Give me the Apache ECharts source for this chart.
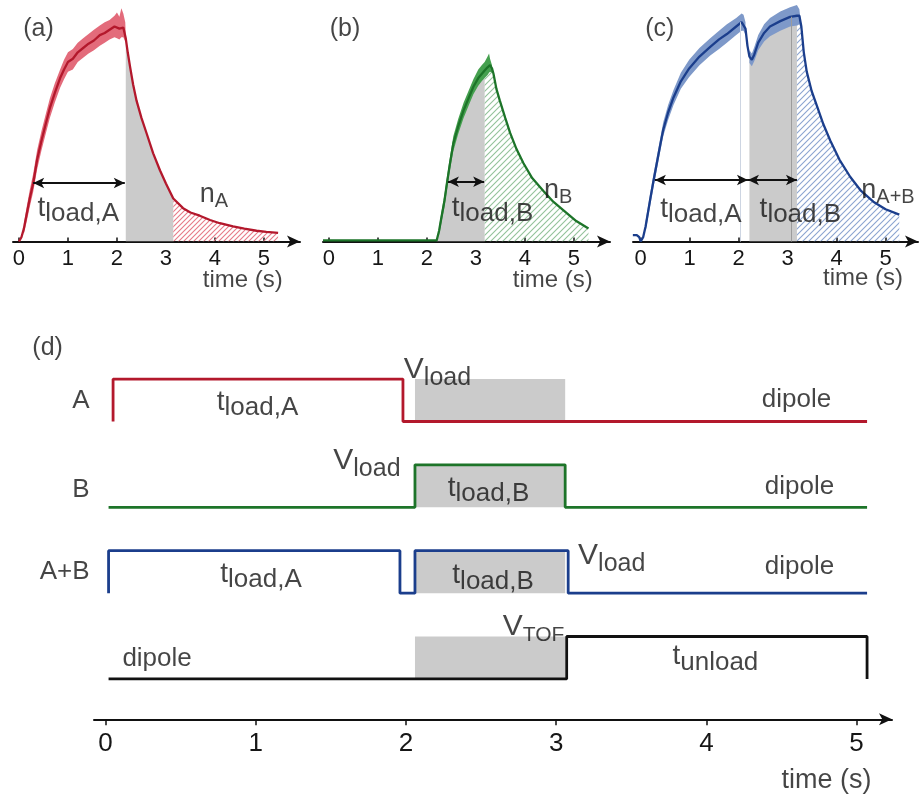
<!DOCTYPE html>
<html>
<head>
<meta charset="utf-8">
<script src="https://cdn.jsdelivr.net/npm/echarts@6.0.0/dist/echarts.min.js"></script>
<style>
  html, body { margin: 0; padding: 0; background: #fff; }
  #chart { width: 920px; height: 801px; }
</style>
</head>
<body>
<div id="chart"></div>
<script>
// ---- data (time in s, signal in arbitrary units) ----
var tickValues = [0, 1, 2, 3, 4, 5];
var tickLabels = ['0', '1', '2', '3', '4', '5'];

// (a) species A alone: mean trace [t, n]
var aCurve = [[0, 0], [0.05, 0.02], [0.10, 0.06], [0.16, 0.13], [0.22, 0.20], [0.29, 0.27], [0.37, 0.38],
  [0.46, 0.47], [0.55, 0.55], [0.63, 0.62], [0.73, 0.69], [0.84, 0.76], [0.92, 0.80], [1.00, 0.835],
  [1.10, 0.85], [1.20, 0.88], [1.31, 0.90], [1.42, 0.92], [1.53, 0.935], [1.65, 0.96], [1.75, 0.97],
  [1.85, 0.985], [1.95, 1.00], [2.05, 0.99], [2.13, 0.995], [2.18, 0.945], [2.22, 0.88], [2.27, 0.81],
  [2.33, 0.73], [2.40, 0.655], [2.50, 0.575], [2.61, 0.50], [2.74, 0.41], [2.88, 0.33], [3.00, 0.27],
  [3.15, 0.20], [3.35, 0.155], [3.50, 0.135], [3.69, 0.12], [3.90, 0.10], [4.10, 0.085], [4.37, 0.07],
  [4.60, 0.06], [4.85, 0.05], [5.05, 0.045], [5.29, 0.04]];
// spread of the shots [t, low, high]
var aBand = [[0.10, 0.035, 0.085], [0.16, 0.095, 0.165], [0.22, 0.16, 0.24], [0.29, 0.23, 0.315],
  [0.37, 0.335, 0.425], [0.46, 0.425, 0.515], [0.55, 0.505, 0.595], [0.63, 0.575, 0.665],
  [0.73, 0.645, 0.735], [0.84, 0.715, 0.80], [0.92, 0.755, 0.845], [1.00, 0.79, 0.88],
  [1.10, 0.80, 0.895], [1.20, 0.835, 0.925], [1.31, 0.855, 0.945], [1.42, 0.875, 0.965],
  [1.53, 0.89, 0.985], [1.65, 0.91, 1.005], [1.75, 0.925, 1.02], [1.85, 0.94, 1.03],
  [1.95, 0.95, 1.05], [2.00, 0.945, 1.065], [2.05, 0.94, 1.045], [2.09, 0.95, 1.085],
  [2.13, 0.95, 1.06], [2.17, 0.93, 1.02], [2.18, 0.93, 0.96]];
var aGray = [2.18, 3.15];
var aHatch = [3.15, 5.29];

// (b) species B alone
var bCurve = [[-0.12, 0.005], [2.20, 0.005], [2.25, 0.05], [2.30, 0.115], [2.36, 0.19], [2.41, 0.27],
  [2.47, 0.36], [2.54, 0.455], [2.64, 0.535], [2.75, 0.61], [2.85, 0.665], [2.95, 0.72], [3.05, 0.76],
  [3.18, 0.795], [3.24, 0.81], [3.29, 0.82], [3.33, 0.805], [3.36, 0.78], [3.42, 0.71], [3.49, 0.655],
  [3.60, 0.575], [3.70, 0.505], [3.83, 0.43], [3.97, 0.365], [4.15, 0.295], [4.38, 0.235],
  [4.58, 0.185], [4.79, 0.145], [5.05, 0.095], [5.30, 0.06]];
var bBand = [[2.25, 0.03, 0.07], [2.30, 0.09, 0.14], [2.36, 0.16, 0.22], [2.41, 0.24, 0.30],
  [2.47, 0.33, 0.39], [2.54, 0.42, 0.49], [2.64, 0.50, 0.57], [2.75, 0.575, 0.645], [2.85, 0.63, 0.70],
  [2.95, 0.685, 0.755], [3.05, 0.725, 0.80], [3.12, 0.745, 0.82], [3.18, 0.76, 0.835],
  [3.24, 0.775, 0.86], [3.27, 0.785, 0.875], [3.29, 0.79, 0.85], [3.33, 0.785, 0.82]];
var bGray = [2.20, 3.18];
var bHatch = [3.18, 5.30];

// (c) A then B
var cCurve = [[-0.16, 0.03], [-0.08, 0.03], [-0.03, 0.02], [0.0, 0.0], [0.05, 0.02], [0.10, 0.07],
  [0.19, 0.19], [0.26, 0.28], [0.33, 0.365], [0.40, 0.45], [0.46, 0.52], [0.56, 0.60], [0.67, 0.67],
  [0.82, 0.745], [0.99, 0.805], [1.20, 0.86], [1.42, 0.905], [1.60, 0.94], [1.76, 0.965], [1.95, 1.00],
  [2.06, 1.02], [2.10, 1.025], [2.14, 0.99], [2.18, 0.91], [2.22, 0.86], [2.27, 0.845], [2.32, 0.87],
  [2.40, 0.925], [2.52, 0.97], [2.64, 1.0], [2.85, 1.025], [3.05, 1.045], [3.19, 1.05], [3.24, 1.05],
  [3.28, 1.0], [3.33, 0.88], [3.39, 0.79], [3.49, 0.70], [3.60, 0.63], [3.73, 0.545], [3.87, 0.47],
  [4.06, 0.38], [4.28, 0.30], [4.50, 0.235], [4.75, 0.185], [5.00, 0.15], [5.28, 0.125]];
var cBand1 = [[0.10, 0.045, 0.095], [0.19, 0.16, 0.22], [0.26, 0.25, 0.31], [0.33, 0.335, 0.395],
  [0.40, 0.42, 0.48], [0.46, 0.49, 0.555], [0.56, 0.565, 0.635], [0.67, 0.635, 0.705],
  [0.82, 0.71, 0.785], [0.99, 0.765, 0.845], [1.20, 0.82, 0.90], [1.42, 0.865, 0.945],
  [1.60, 0.895, 0.98], [1.76, 0.925, 1.01], [1.95, 0.96, 1.04], [2.06, 0.98, 1.06],
  [2.10, 0.98, 1.055], [2.14, 0.96, 1.02]];
var cBand2 = [[2.22, 0.83, 0.89], [2.27, 0.815, 0.875], [2.32, 0.84, 0.905], [2.40, 0.89, 0.96],
  [2.52, 0.93, 1.01], [2.64, 0.955, 1.04], [2.85, 0.98, 1.07], [3.05, 1.0, 1.09],
  [3.19, 1.005, 1.1], [3.24, 1.01, 1.08], [3.27, 0.99, 1.02]];
var cGray = [2.22, 3.19];
var cHatch = [3.19, 5.28];
var cMarks = [[2.03, 1.02], [3.08, 1.045]];

// (d) switching sequence: [t, state] (state 1 = load potential on)
var seqA = [[0.05, 0], [0.05, 1], [1.98, 0], [5.07, 0]];
var seqB = [[0.02, 0], [2.06, 1], [3.06, 0], [5.07, 0]];
var seqAB = [[0.02, 0], [0.02, 1], [1.96, 0], [2.06, 1], [3.08, 0], [5.07, 0]];
var seqTOF = [[0.02, 0], [3.07, 1], [5.07, 0], [5.07, 0]];
var loadWindow = [2.06, 3.06];
var rowBase = [7, 5, 3, 1];

// ---- styling ----
var F = '"Liberation Sans", Arial, Helvetica, sans-serif';
var TXT = '#161616';
var RED = '#b3182c', RED_BAND = '#e36b7b', RED_HATCH = '#e67a88';
var GRN = '#1d7429', GRN_BAND = '#45a04f', GRN_HATCH = '#93c29a';
var BLU = '#1b3e8c', BLU_BAND = '#7e99c9', BLU_HATCH = '#8ba4d0';
var GRAY = '#cbcbcb';
var AMP = 0.99;

function hatch(color, s) {
  var c = document.createElement('canvas');
  c.width = s; c.height = s;
  var ctx = c.getContext('2d');
  ctx.strokeStyle = color;
  ctx.lineWidth = 1.1;
  ctx.beginPath();
  ctx.moveTo(0, s); ctx.lineTo(s, 0);
  ctx.moveTo(-1, 1); ctx.lineTo(1, -1);
  ctx.moveTo(s - 1, s + 1); ctx.lineTo(s + 1, s - 1);
  ctx.stroke();
  return { image: c, repeat: 'repeat' };
}

var RICH = {
  t: { fontSize: 28, fontFamily: F, color: TXT },
  s: { fontSize: 26, fontFamily: F, color: TXT, padding: [12, 0, 0, 0] },
  n: { fontSize: 27, fontFamily: F, color: TXT },
  ns: { fontSize: 20, fontFamily: F, color: TXT, padding: [14, 0, 0, 0] },
  V: { fontSize: 30, fontFamily: F, color: TXT },
  vs: { fontSize: 25, fontFamily: F, color: TXT, padding: [17, 0, 0, 0] },
  vt: { fontSize: 21, fontFamily: F, color: TXT, padding: [18, 0, 0, 0] },
  p: { fontSize: 25, fontFamily: F, color: TXT },
  w: { fontSize: 24, fontFamily: F, color: TXT },
  W: { fontSize: 27, fontFamily: F, color: TXT },
  d: { fontSize: 26, fontFamily: F, color: TXT }
};

// annotations in data coordinates of each panel
var notesA = [
  { text: '{p|(a)}', at: [0.40, 0.99] },
  { text: '{t|t}{s|load,A}', at: [1.21, 0.156] },
  { text: '{n|n}{ns|A}', at: [3.98, 0.22] },
  { text: '{w|time (s)}', at: [4.57, -0.18] }
];
var notesB = [
  { text: '{p|(b)}', at: [0.33, 0.99] },
  { text: '{t|t}{s|load,B}', at: [3.34, 0.156] },
  { text: '{n|n}{ns|B}', at: [4.68, 0.235] },
  { text: '{w|time (s)}', at: [4.57, -0.18] }
];
var notesC = [
  { text: '{p|(c)}', at: [0.39, 0.99] },
  { text: '{t|t}{s|load,A}', at: [1.23, 0.151] },
  { text: '{t|t}{s|load,B}', at: [3.26, 0.151] },
  { text: '{n|n}{ns|A+B}', at: [5.05, 0.235] },
  { text: '{w|time (s)}', at: [4.54, -0.17] }
];
var notesD = [
  { text: '{p|(d)}', at: [-0.386, 8.72] },
  { text: '{d|A}', at: [-0.103, 7.48], pos: 'left' },
  { text: '{d|B}', at: [-0.103, 5.41], pos: 'left' },
  { text: '{d|A+B}', at: [-0.103, 3.50], pos: 'left' },
  { text: '{t|t}{s|load,A}', at: [1.012, 7.46] },
  { text: '{V|V}{vs|load}', at: [2.21, 8.21] },
  { text: '{d|dipole}', at: [4.60, 7.51] },
  { text: '{V|V}{vs|load}', at: [1.74, 6.09] },
  { text: '{t|t}{s|load,B}', at: [2.55, 5.45] },
  { text: '{d|dipole}', at: [4.62, 5.48] },
  { text: '{t|t}{s|load,A}', at: [1.035, 3.45] },
  { text: '{t|t}{s|load,B}', at: [2.58, 3.41] },
  { text: '{V|V}{vs|load}', at: [3.37, 3.87] },
  { text: '{d|dipole}', at: [4.62, 3.62] },
  { text: '{d|dipole}', at: [0.343, 1.48] },
  { text: '{V|V}{vt|TOF}', at: [2.85, 2.22] },
  { text: '{t|t}{s|unload}', at: [4.06, 1.52] },
  { text: '{W|time (s)}', at: [4.80, -1.36] }
];

// ---- builders ----
function inRange(pts, r) {
  return pts.filter(function (p) { return p[0] >= r[0] - 1e-9 && p[0] <= r[1] + 1e-9; });
}

function xAxisFor(grid, min, max, fs, tickLen, inside, margin) {
  return {
    gridIndex: grid, type: 'value', min: min, max: max,
    axisLine: { show: true, onZero: false, symbol: ['none', 'arrow'], symbolSize: [9, 13],
      lineStyle: { color: '#111', width: 2 } },
    axisTick: { show: true, inside: inside, length: tickLen, customValues: tickValues,
      lineStyle: { color: '#111', width: 1.5 } },
    axisLabel: { show: true, customValues: tickValues, margin: margin, fontSize: fs, color: TXT, fontFamily: F,
      formatter: function (v) { return tickLabels[tickValues.indexOf(Math.round(v))]; } },
    splitLine: { show: false }
  };
}

function yAxisFor(grid, min, max) {
  return { gridIndex: grid, type: 'value', min: min, max: max, show: false, splitLine: { show: false } };
}

function areaSeries(grid, pts, fill, z) {
  return { type: 'line', xAxisIndex: grid, yAxisIndex: grid, data: pts, symbol: 'none', silent: true, z: z,
    lineStyle: { width: 0, opacity: 0 }, areaStyle: { color: fill, opacity: 1 } };
}

function bandSeries(grid, band, color) {
  return {
    type: 'custom', xAxisIndex: grid, yAxisIndex: grid, silent: true, z: 3,
    data: band, encode: { x: 0, y: [1, 2] },
    renderItem: function (params, api) {
      if (params.dataIndex !== 0) return null;
      var up = band.map(function (b) { return api.coord([b[0], b[2]]); });
      var dn = band.map(function (b) { return api.coord([b[0], b[1]]); }).reverse();
      return { type: 'polygon', shape: { points: up.concat(dn) }, style: { fill: color } };
    }
  };
}

function curveSeries(grid, pts, color, arrows) {
  return {
    type: 'line', xAxisIndex: grid, yAxisIndex: grid, data: pts, symbol: 'none', silent: true, z: 4,
    lineStyle: { color: color, width: 2.3 },
    markLine: {
      silent: true, symbol: ['arrow', 'arrow'], symbolSize: [8, 11], label: { show: false },
      lineStyle: { color: '#111', width: 1.8, type: 'solid' },
      data: arrows.map(function (a) { return [{ coord: [a[0], a[2]] }, { coord: [a[1], a[2]] }]; })
    }
  };
}

function notesSeries(grid, notes) {
  return {
    type: 'scatter', xAxisIndex: grid, yAxisIndex: grid, clip: false, silent: true, z: 10,
    symbolSize: 1, itemStyle: { color: 'rgba(0,0,0,0)' },
    label: { show: true, color: TXT, fontFamily: F, rich: RICH },
    data: notes.map(function (n) {
      return { value: n.at, label: { show: true, formatter: n.text, position: n.pos || 'inside', distance: 0 } };
    })
  };
}

function rowSeries(seq, base, color) {
  return { type: 'line', xAxisIndex: 3, yAxisIndex: 3, step: 'end', symbol: 'none', silent: true, z: 4,
    lineStyle: { color: color, width: 2.8 },
    data: seq.map(function (s) { return [s[0], base + s[1] * AMP]; }) };
}

var boxes = rowBase.map(function (b) { return [loadWindow[0], b, loadWindow[1], b + AMP]; });

var series = [
  // (a)
  areaSeries(0, inRange(aCurve, aGray), GRAY, 1),
  areaSeries(0, inRange(aCurve, aHatch), hatch(RED_HATCH, 5), 1),
  bandSeries(0, aBand, RED_BAND),
  curveSeries(0, aCurve, RED, [[0.29, 2.16, 0.272]]),
  notesSeries(0, notesA),
  // (b)
  areaSeries(1, inRange(bCurve, bGray), GRAY, 1),
  areaSeries(1, inRange(bCurve, bHatch), hatch(GRN_HATCH, 6), 1),
  bandSeries(1, bBand, GRN_BAND),
  curveSeries(1, bCurve, GRN, [[2.43, 3.17, 0.278]]),
  notesSeries(1, notesB),
  // (c)
  (function () {
    var s = areaSeries(2, inRange(cCurve, cGray), GRAY, 1);
    s.markLine = { silent: true, symbol: ['none', 'none'], label: { show: false },
      data: cMarks.map(function (m, i) {
        return [{ coord: [m[0], 0], lineStyle: { color: i ? '#9c9c9c' : '#cdd5e2', width: 1, type: 'solid' } },
          { coord: [m[0], m[1]] }];
      }) };
    return s;
  })(),
  areaSeries(2, inRange(cCurve, cHatch), hatch(BLU_HATCH, 6), 1),
  bandSeries(2, cBand1, BLU_BAND),
  bandSeries(2, cBand2, BLU_BAND),
  curveSeries(2, cCurve, BLU, [[0.29, 2.19, 0.286], [2.19, 3.19, 0.286]]),
  notesSeries(2, notesC),
  // (d)
  {
    type: 'custom', xAxisIndex: 3, yAxisIndex: 3, silent: true, z: 1,
    data: boxes, encode: { x: [0, 2], y: [1, 3] },
    renderItem: function (params, api) {
      var p0 = api.coord([api.value(0), api.value(3)]);
      var p1 = api.coord([api.value(2), api.value(1)]);
      return { type: 'rect', shape: { x: p0[0], y: p0[1], width: p1[0] - p0[0], height: p1[1] - p0[1] },
        style: { fill: GRAY } };
    }
  },
  rowSeries(seqA, rowBase[0], RED),
  rowSeries(seqB, rowBase[1], GRN),
  rowSeries(seqAB, rowBase[2], BLU),
  rowSeries(seqTOF, rowBase[3], '#111'),
  notesSeries(3, notesD)
];

var option = {
  animation: false,
  backgroundColor: '#fff',
  grid: [
    { left: 13, top: 5, width: 287, height: 236.5 },
    { left: 323, top: 5, width: 287, height: 236.5 },
    { left: 633, top: 5, width: 285, height: 236.5 },
    { left: 94, top: 340, width: 798, height: 379.3 }
  ],
  xAxis: [
    xAxisFor(0, -0.122, 5.737, 22, 4, true, 6),
    xAxisFor(1, -0.12, 5.739, 22, 4, true, 6),
    xAxisFor(2, -0.157, 5.662, 22, 4, true, 6),
    xAxisFor(3, -0.077, 5.236, 26, 6, false, 12)
  ],
  yAxis: [
    yAxisFor(0, 0, 1.1),
    yAxisFor(1, 0, 1.1),
    yAxisFor(2, 0, 1.1),
    yAxisFor(3, 0.06, 8.9)
  ],
  series: series
};

var chart = echarts.init(document.getElementById('chart'));
chart.setOption(option);
</script>
</body>
</html>
